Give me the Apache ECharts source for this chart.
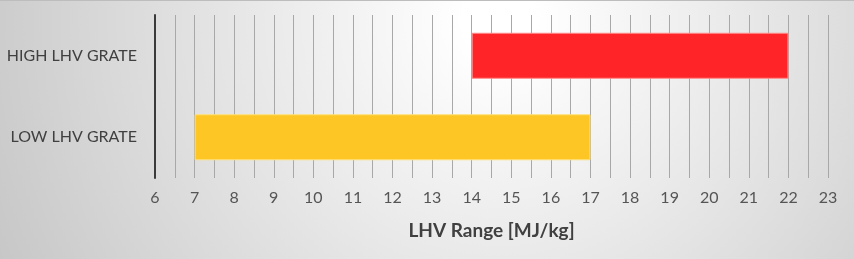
<!DOCTYPE html>
<html><head><meta charset="utf-8">
<script src="https://cdn.jsdelivr.net/npm/echarts@6/dist/echarts.min.js"></script>
<style>html,body{margin:0;padding:0;}#c{width:854px;height:259px;}</style>
</head><body><div id="c"></div>
<script>
const categories = ['LOW LHV GRATE', 'HIGH LHV GRATE'];
const rangeStart = [7, 14];
const rangeEnd = [17, 22];
const barColors = ['#FDC624', '#FE2427'];
const barBorders = ['#FFE07A', '#FF8A8A'];
const axisName = 'LHV Range [MJ/kg]';

const chart = echarts.init(document.getElementById('c'), null, {renderer: 'canvas'});
const font = 'Lato, "Open Sans", sans-serif';
chart.setOption({
  backgroundColor: {
    type: 'radial', x: 0.585, y: 0.077, r: 2.32,
    colorStops: [{offset: 0, color: '#ffffff'}, {offset: 0.06, color: '#ffffff'}, {offset: 1, color: '#c2c2c2'}]
  },
  animation: false,
  grid: {left: 155, right: 26, top: 15, bottom: 81},
  xAxis: {
    type: 'value', min: 6, max: 23, interval: 0.5,
    axisLine: {show: false}, axisTick: {show: false},
    splitLine: {show: true, lineStyle: {color: '#a8a8a8', width: 1}},
    axisLabel: {
      margin: 12, fontSize: 16, color: '#555555', fontFamily: font,
      formatter: v => (Math.abs(v - Math.round(v)) < 1e-9 ? String(Math.round(v)) : '')
    },
    name: axisName, nameLocation: 'middle', nameGap: 43,
    nameTextStyle: {fontSize: 19, fontWeight: 'bold', color: '#404040', fontFamily: font}
  },
  yAxis: {
    type: 'category', data: categories,
    axisLine: {show: true, lineStyle: {color: '#3a3a3a', width: 2}},
    axisTick: {show: false},
    axisLabel: {margin: 18, fontSize: 16, color: '#404040', fontFamily: font}
  },
  series: [
    {
      type: 'bar', stack: 'r', silent: true,
      data: rangeStart,
      itemStyle: {color: 'transparent'},
      barWidth: 46
    },
    {
      type: 'bar', stack: 'r',
      data: rangeEnd.map((e, i) => ({
        value: e - rangeStart[i],
        itemStyle: {color: barColors[i], borderColor: barBorders[i], borderWidth: 1}
      })),
      barWidth: 46
    }
  ],
  graphic: [{type: 'rect', shape: {x: 0, y: 0, width: 854, height: 1}, style: {fill: '#bdbdbd'}}]
});
</script></body></html>
